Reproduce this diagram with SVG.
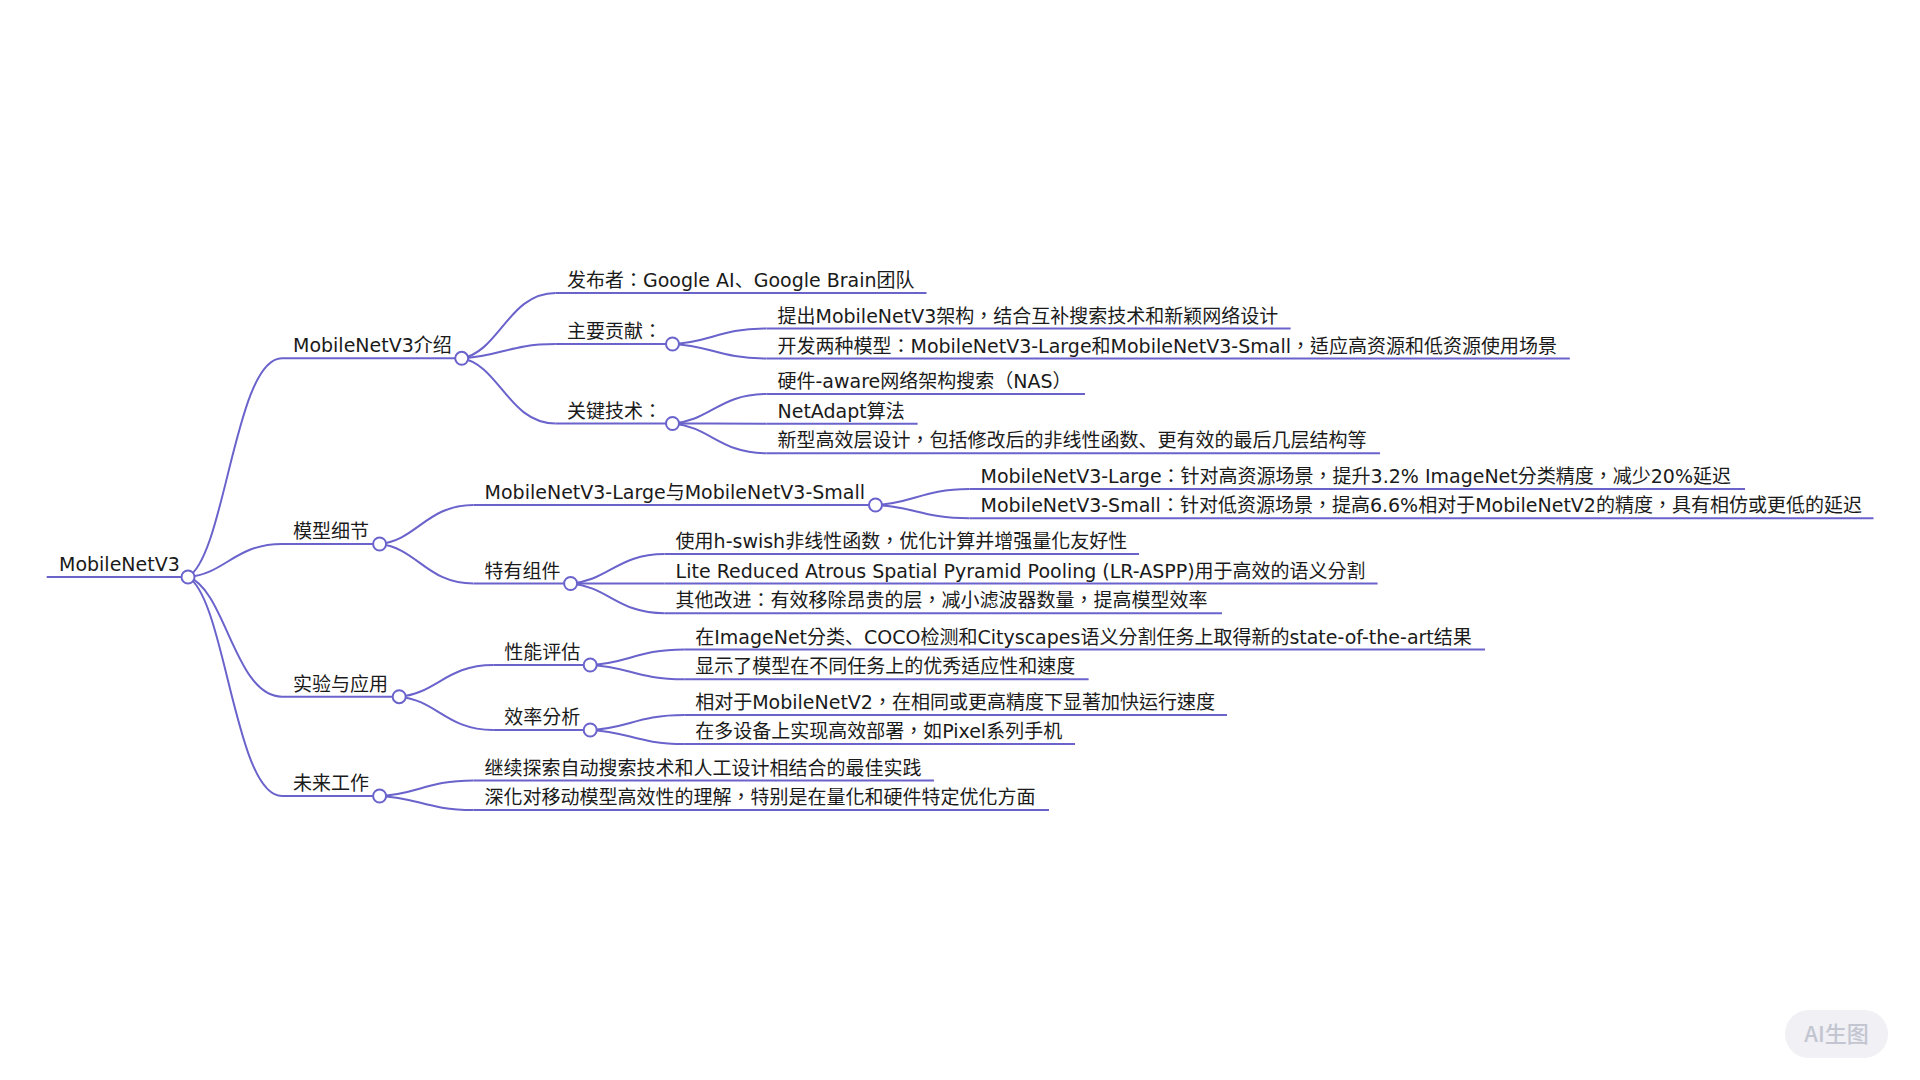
<svg xmlns="http://www.w3.org/2000/svg" width="1920" height="1080" viewBox="0 0 1920 1080">
<style>
.c{fill:none;stroke:#6a63cc;stroke-width:2}
.u{stroke:#6a63cc;stroke-width:2}
.k{fill:#fff;stroke:#6a63cc;stroke-width:2}
text{font-family:"DejaVu Sans","Noto Sans CJK TC",sans-serif;font-size:19px;fill:#1a1a1a}
.sc{font-family:"Noto Sans CJK SC",sans-serif}
.b{fill:#f0f0f5}
.bt{font-family:"Noto Sans CJK SC",sans-serif;font-size:22px;fill:#c3c5d0;font-weight:500;text-anchor:middle}
</style>
<rect width="1920" height="1080" fill="#fff"/>
<g id="connectors">
<path class="c" d="M188,577 C225.6,555.1 235,358.3 282,358.3"/>
<path class="c" d="M188,577 C225.6,573.7 235,544 282,544"/>
<path class="c" d="M188,577 C225.6,589 235,696.7 282,696.7"/>
<path class="c" d="M188,577 C225.6,598.9 235,796 282,796"/>
<path class="c" d="M461.7,358.3 C499.3,351.8 508.7,293 555.7,293"/>
<path class="c" d="M461.7,358.3 C499.3,356.9 508.7,344 555.7,344"/>
<path class="c" d="M461.7,358.3 C499.3,364.8 508.7,423.5 555.7,423.5"/>
<path class="c" d="M672.5,344 C710.1,342.5 719.5,328.5 766.5,328.5"/>
<path class="c" d="M672.5,344 C710.1,345.5 719.5,358.5 766.5,358.5"/>
<path class="c" d="M672.5,423.5 C710.1,420.6 719.5,394 766.5,394"/>
<path class="c" d="M672.5,423.5 C710.1,423.5 719.5,423.7 766.5,423.7"/>
<path class="c" d="M672.5,423.5 C710.1,426.5 719.5,453.3 766.5,453.3"/>
<path class="c" d="M379.6,544 C417.2,540.1 426.6,505 473.6,505"/>
<path class="c" d="M379.6,544 C417.2,548 426.6,583.5 473.6,583.5"/>
<path class="c" d="M875.5,505 C913.1,503.4 922.5,489 969.5,489"/>
<path class="c" d="M875.5,505 C913.1,506.3 922.5,518.3 969.5,518.3"/>
<path class="c" d="M570.6,583.5 C608.2,580.6 617.6,554 664.6,554"/>
<path class="c" d="M570.6,583.5 C608.2,583.5 617.6,583.5 664.6,583.5"/>
<path class="c" d="M570.6,583.5 C608.2,586.5 617.6,613.3 664.6,613.3"/>
<path class="c" d="M399.2,696.7 C436.8,693.5 446.2,665 493.2,665"/>
<path class="c" d="M399.2,696.7 C436.8,700 446.2,730 493.2,730"/>
<path class="c" d="M590.2,665 C627.8,663.5 637.2,649.5 684.2,649.5"/>
<path class="c" d="M590.2,665 C627.8,666.4 637.2,679.3 684.2,679.3"/>
<path class="c" d="M590.2,730 C627.8,728.5 637.2,715 684.2,715"/>
<path class="c" d="M590.2,730 C627.8,731.4 637.2,744 684.2,744"/>
<path class="c" d="M379.6,796 C417.2,794.5 426.6,780.5 473.6,780.5"/>
<path class="c" d="M379.6,796 C417.2,797.4 426.6,810 473.6,810"/>
</g>
<g id="n-root"><line class="u" x1="46.7" y1="577" x2="188" y2="577"/><text x="59" y="571">MobileNetV3</text><circle class="k" cx="188" cy="577" r="6.5"/></g>
<g id="n-intro"><line class="u" x1="282" y1="358.3" x2="461.7" y2="358.3"/><text x="293" y="352.3">MobileNetV3介绍</text><circle class="k" cx="461.7" cy="358.3" r="6.5"/></g>
<g id="n-publisher"><line class="u" x1="555.7" y1="293" x2="926.5" y2="293"/><text x="567" y="287">发布者：Google AI<tspan class="sc">、</tspan>Google Brain团队</text></g>
<g id="n-contrib"><line class="u" x1="555.7" y1="344" x2="672.5" y2="344"/><text x="567" y="338">主要贡献：</text><circle class="k" cx="672.5" cy="344" r="6.5"/></g>
<g id="n-contrib1"><line class="u" x1="766.5" y1="328.5" x2="1290.6" y2="328.5"/><text x="777.5" y="322.5">提出MobileNetV3架构，结合互补搜索技术和新颖网络设计</text></g>
<g id="n-contrib2"><line class="u" x1="766.5" y1="358.5" x2="1569.8" y2="358.5"/><text x="777.5" y="352.5">开发两种模型：MobileNetV3-Large和MobileNetV3-Small，适应高资源和低资源使用场景</text></g>
<g id="n-tech"><line class="u" x1="555.7" y1="423.5" x2="672.5" y2="423.5"/><text x="567" y="417.5">关键技术：</text><circle class="k" cx="672.5" cy="423.5" r="6.5"/></g>
<g id="n-tech1"><line class="u" x1="766.5" y1="394" x2="1085" y2="394"/><text x="777.5" y="388">硬件-aware网络架构搜索（NAS）</text></g>
<g id="n-tech2"><line class="u" x1="766.5" y1="423.7" x2="917.6" y2="423.7"/><text x="777.5" y="417.7">NetAdapt算法</text></g>
<g id="n-tech3"><line class="u" x1="766.5" y1="453.3" x2="1380" y2="453.3"/><text x="777.5" y="447.3">新型高效层设计，包括修改后的非线性函数<tspan class="sc">、</tspan>更有效的最后几层结构等</text></g>
<g id="n-details"><line class="u" x1="282" y1="544" x2="379.6" y2="544"/><text x="293" y="538">模型细节</text><circle class="k" cx="379.6" cy="544" r="6.5"/></g>
<g id="n-ls"><line class="u" x1="473.6" y1="505" x2="875.5" y2="505"/><text x="484.6" y="499">MobileNetV3-Large与MobileNetV3-Small</text><circle class="k" cx="875.5" cy="505" r="6.5"/></g>
<g id="n-large"><line class="u" x1="969.5" y1="489" x2="1745" y2="489"/><text x="980.5" y="483">MobileNetV3-Large：针对高资源场景，提升3.2% ImageNet分类精度，减少20%延迟</text></g>
<g id="n-small"><line class="u" x1="969.5" y1="518.3" x2="1873.5" y2="518.3"/><text x="980.5" y="512.3">MobileNetV3-Small：针对低资源场景，提高6.6%相对于MobileNetV2的精度，具有相仿或更低的延迟</text></g>
<g id="n-comp"><line class="u" x1="473.6" y1="583.5" x2="570.6" y2="583.5"/><text x="484.6" y="577.5">特有组件</text><circle class="k" cx="570.6" cy="583.5" r="6.5"/></g>
<g id="n-comp1"><line class="u" x1="664.6" y1="554" x2="1139" y2="554"/><text x="675.6" y="548">使用h-swish非线性函数，优化计算并增强量化友好性</text></g>
<g id="n-comp2"><line class="u" x1="664.6" y1="583.5" x2="1377.6" y2="583.5"/><text x="675.6" y="577.5">Lite Reduced Atrous Spatial Pyramid Pooling (LR-ASPP)用于高效的语义分割</text></g>
<g id="n-comp3"><line class="u" x1="664.6" y1="613.3" x2="1222" y2="613.3"/><text x="675.6" y="607.3">其他改进：有效移除昂贵的层，减小滤波器数量，提高模型效率</text></g>
<g id="n-exp"><line class="u" x1="282" y1="696.7" x2="399.2" y2="696.7"/><text x="293" y="690.7">实验与应用</text><circle class="k" cx="399.2" cy="696.7" r="6.5"/></g>
<g id="n-perf"><line class="u" x1="493.2" y1="665" x2="590.2" y2="665"/><text x="504.2" y="659">性能评估</text><circle class="k" cx="590.2" cy="665" r="6.5"/></g>
<g id="n-perf1"><line class="u" x1="684.2" y1="649.5" x2="1485" y2="649.5"/><text x="695.2" y="643.5">在ImageNet分类<tspan class="sc">、</tspan>COCO检测和Cityscapes语义分割任务上取得新的state-of-the-art结果</text></g>
<g id="n-perf2"><line class="u" x1="684.2" y1="679.3" x2="1088.6" y2="679.3"/><text x="695.2" y="673.3">显示了模型在不同任务上的优秀适应性和速度</text></g>
<g id="n-eff"><line class="u" x1="493.2" y1="730" x2="590.2" y2="730"/><text x="504.2" y="724">效率分析</text><circle class="k" cx="590.2" cy="730" r="6.5"/></g>
<g id="n-eff1"><line class="u" x1="684.2" y1="715" x2="1227" y2="715"/><text x="695.2" y="709">相对于MobileNetV2，在相同或更高精度下显著加快运行速度</text></g>
<g id="n-eff2"><line class="u" x1="684.2" y1="744" x2="1075" y2="744"/><text x="695.2" y="738">在多设备上实现高效部署，如Pixel系列手机</text></g>
<g id="n-future"><line class="u" x1="282" y1="796" x2="379.6" y2="796"/><text x="293" y="790">未来工作</text><circle class="k" cx="379.6" cy="796" r="6.5"/></g>
<g id="n-future1"><line class="u" x1="473.6" y1="780.5" x2="934" y2="780.5"/><text x="484.6" y="774.5">继续探索自动搜索技术和人工设计相结合的最佳实践</text></g>
<g id="n-future2"><line class="u" x1="473.6" y1="810" x2="1049" y2="810"/><text x="484.6" y="804">深化对移动模型高效性的理解，特别是在量化和硬件特定优化方面</text></g>
<g id="badge"><rect class="b" x="1785" y="1010" width="103" height="48" rx="24"/><text class="bt" x="1836.5" y="1042">AI生图</text></g>
</svg>
